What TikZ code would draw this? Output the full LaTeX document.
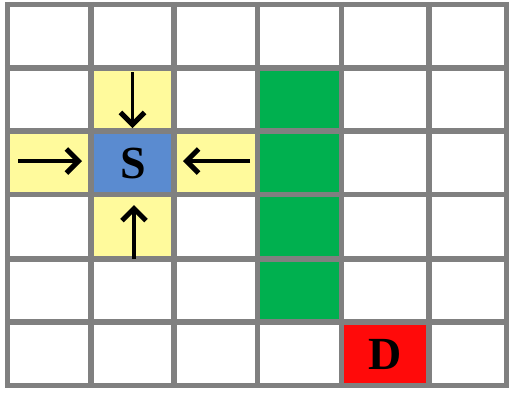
\documentclass[tikz,border=0pt]{standalone}
\usepackage{fontspec}
\setmainfont{Liberation Serif}
\usetikzlibrary{arrows.meta}
\definecolor{gridgray}{HTML}{808080}
\definecolor{cellyellow}{HTML}{FFFA9C}
\definecolor{cellblue}{HTML}{5A8BD0}
\definecolor{cellgreen}{HTML}{00B04F}
\definecolor{cellred}{HTML}{FF0A0A}
\tikzset{
  cellfill/.style={fill=#1, draw=none},
  gridline/.style={draw=gridgray, line width=5.5pt},
  letter/.style={font=\bfseries\fontsize{46}{46}\selectfont, text=black, inner sep=0pt},
  movearrow/.style={draw=black, line width=3.4pt, -{Straight Barb[length=12pt,width=24pt,line width=5pt]}}
}
\begin{document}
\begin{tikzpicture}[x=1pt,y=-1pt]
\useasboundingbox (0,0) rectangle (509,392);
\fill[white] (0,0) rectangle (509,392);
% column edges: 7.5, 91, 174, 257.5, 341.5, 429, 508
% row edges: 4.5, 68, 131, 194.5, 259, 322, 385.5
% yellow cells
\path[cellfill=cellyellow] (91,68) rectangle (174,131);
\path[cellfill=cellyellow] (7.5,131) rectangle (91,194.5);
\path[cellfill=cellyellow] (174,131) rectangle (257.5,194.5);
\path[cellfill=cellyellow] (91,194.5) rectangle (174,259);
% start cell
\path[cellfill=cellblue] (91,131) rectangle (174,194.5);
% wall cells
\path[cellfill=cellgreen] (257.5,68) rectangle (341.5,322);
% destination
\path[cellfill=cellred] (341.5,322) rectangle (429,385.5);
% grid
\foreach \x in {7.5,91,174,257.5,341.5,429,506.5}
  \draw[gridline] (\x,1.75) -- (\x,388.25);
\foreach \y in {4.5,68,131,194.5,259,322,385.5}
  \draw[gridline] (4.75,\y) -- (509,\y);
% labels
\node[letter] (S) at (133,163) {S};
\node[letter] (D) at (385,354) {D};
% arrow endpoints
\coordinate (nT) at (132.5,72);
\coordinate (nB) at (132.5,128);
\coordinate (wL) at (18,161);
\coordinate (wR) at (82,161);
\coordinate (eR) at (250,161);
\coordinate (eL) at (183,161);
\coordinate (sB) at (134,259);
\coordinate (sT) at (134,205);
\draw[movearrow] (nT) -- (nB);
\draw[movearrow] (wL) -- (wR);
\draw[movearrow] (eR) -- (eL);
\draw[movearrow] (sB) -- (sT);
\end{tikzpicture}
\end{document}
